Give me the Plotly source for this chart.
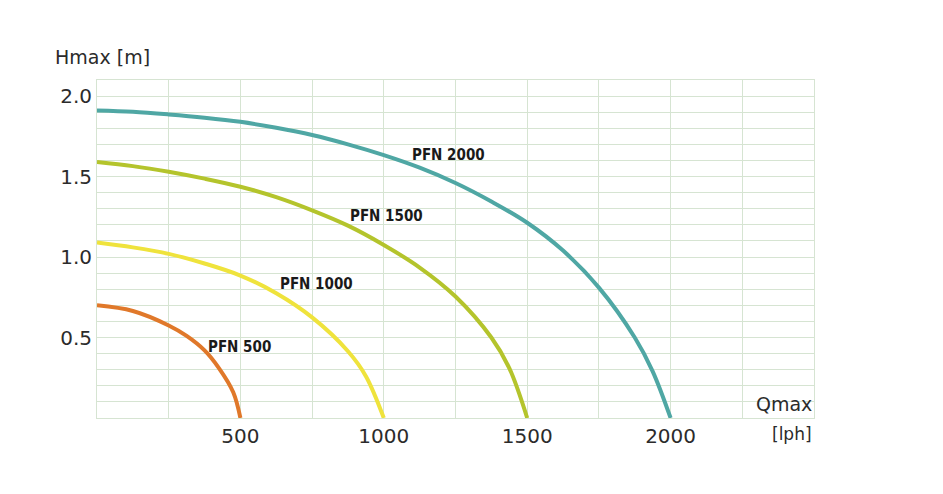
import plotly.graph_objects as go

# Data (flow Q in lph, head H in m)
q_500 = [0, 125, 250, 312.5, 375, 425, 475, 500]
h_500 = [0.70, 0.665, 0.575, 0.51, 0.42, 0.31, 0.16, 0.0]

q_1000 = [0, 125, 250, 375, 500, 625, 750, 875, 937.5, 1000]
h_1000 = [1.09, 1.06, 1.02, 0.96, 0.885, 0.775, 0.625, 0.415, 0.26, 0.0]

q_1500 = [0, 125, 250, 375, 500, 625, 750, 875, 1000, 1125, 1250, 1375, 1437.5, 1500]
h_1500 = [1.59, 1.565, 1.53, 1.487, 1.437, 1.372, 1.29, 1.195, 1.075, 0.935, 0.755, 0.50, 0.31, 0.0]

q_2000 = [0, 125, 250, 375, 500, 625, 750, 875, 1000, 1125, 1250, 1375, 1500,
          1625, 1750, 1875, 1937.5, 2000]
h_2000 = [1.91, 1.902, 1.886, 1.866, 1.84, 1.803, 1.758, 1.70, 1.633, 1.555, 1.46, 1.345, 1.213,
          1.04, 0.81, 0.50, 0.29, 0.0]

series_names = ["PFN 500", "PFN 1000", "PFN 1500", "PFN 2000"]
series_colors = ["#e0782a", "#efe33c", "#b4c42c", "#4fa7a4"]

# label anchor positions (data coords)
label_q = [498, 764, 1011, 1227]
label_h = [0.44, 0.83, 1.255, 1.633]

x_tick_vals = [i * 250 for i in range(11)]
x_tick_text = ["" if v not in (500, 1000, 1500, 2000) else str(v) for v in x_tick_vals]
y_tick_vals = [round(i * 0.1, 1) for i in range(22)]
y_tick_text = [f"{v:.1f}" if v in (0.5, 1.0, 1.5, 2.0) else "" for v in y_tick_vals]

grid_color = "#d6e4d2"

fig = go.Figure()
for q, h, name, color in zip([q_500, q_1000, q_1500, q_2000],
                             [h_500, h_1000, h_1500, h_2000],
                             series_names, series_colors):
    fig.add_trace(go.Scatter(x=q, y=h, mode="lines", name=name,
                             line=dict(color=color, width=4, shape="spline", smoothing=1.0),
                             hoverinfo="x+y+name"))

for name, lq, lh in zip(series_names, label_q, label_h):
    fig.add_annotation(x=lq, y=lh, text=name, showarrow=False,
                       font=dict(family="DejaVu Sans Condensed, Liberation Sans Narrow, Liberation Sans",
                                 size=15, color="#1a1a1a", weight="bold"),
                       xanchor="center", yanchor="middle")

tick_font = dict(family="DejaVu Sans, Liberation Sans", size=20, color="#2b2b2b")

fig.update_xaxes(range=[0, 2500], tickmode="array", tickvals=x_tick_vals, ticktext=x_tick_text,
                 showgrid=True, gridcolor=grid_color, gridwidth=1,
                 showline=True, linecolor=grid_color, linewidth=1, mirror=True,
                 zeroline=False, ticks="", tickfont=tick_font, ticklabelstandoff=0)
fig.update_yaxes(range=[0, 2.1], tickmode="array", tickvals=y_tick_vals, ticktext=y_tick_text,
                 showgrid=True, gridcolor=grid_color, gridwidth=1,
                 showline=True, linecolor=grid_color, linewidth=1, mirror=True,
                 zeroline=False, ticks="", tickfont=tick_font, ticklabelstandoff=0)

title_font = dict(family="DejaVu Sans, Liberation Sans", size=19, color="#2b2b2b")
fig.add_annotation(xref="paper", yref="paper", x=-0.062, y=1.068, text="Hmax [m]",
                   showarrow=False, xanchor="left", yanchor="middle", font=title_font)
fig.add_annotation(xref="paper", yref="paper", x=1.0, y=0.04, text="Qmax",
                   showarrow=False, xanchor="right", yanchor="middle", font=title_font)
fig.add_annotation(xref="paper", yref="paper", x=1.0, y=-0.048, text="[lph]",
                   showarrow=False, xanchor="right", yanchor="middle",
                   font=dict(family="DejaVu Sans, Liberation Sans", size=17, color="#2b2b2b"))

fig.update_layout(width=943, height=494, margin=dict(l=97, r=129, t=80, b=76),
                  plot_bgcolor="white", paper_bgcolor="white", showlegend=False)

fig.write_html("out.html")
